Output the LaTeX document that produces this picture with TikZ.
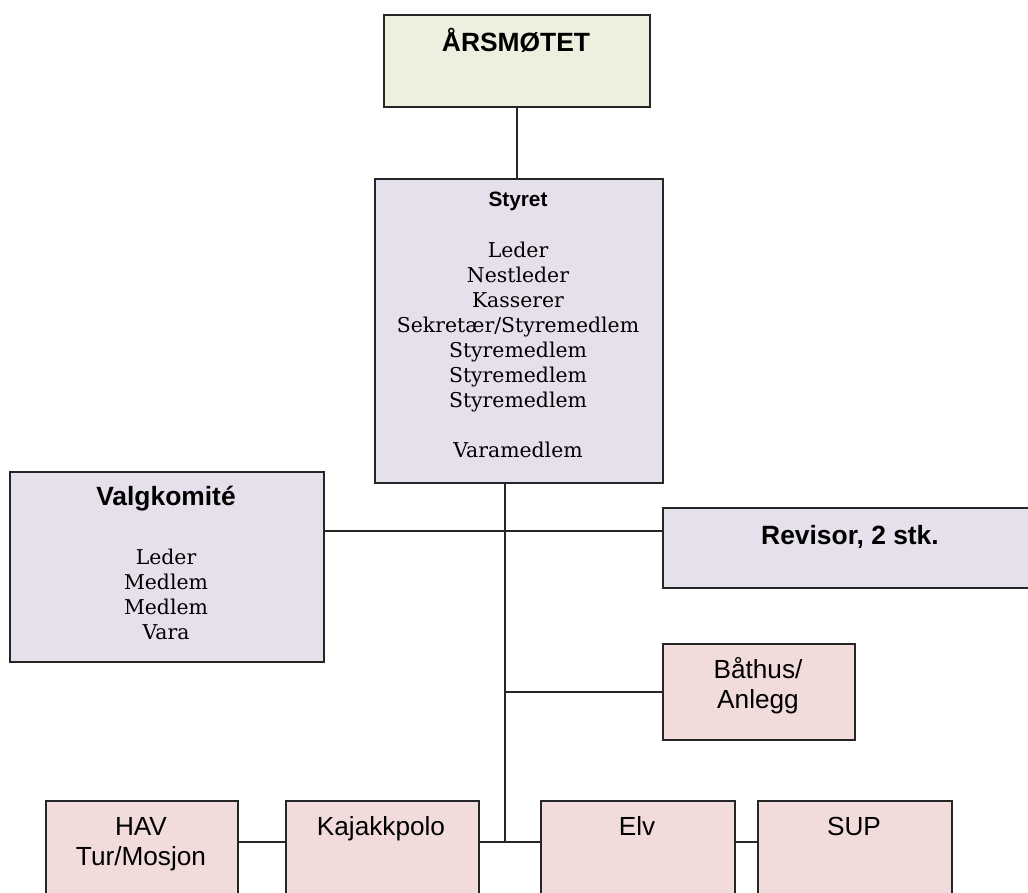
\documentclass[tikz,border=0pt]{standalone}
\usepackage{fontspec}
\setmainfont{Liberation Sans}
\newfontfamily\listfont{DejaVu Serif}
\definecolor{moteGronn}{RGB}{235,241,222}
\definecolor{styreLilla}{RGB}{229,224,236}
\definecolor{gruppeRosa}{RGB}{242,220,219}

\begin{document}
\begin{tikzpicture}[x = 0.5pt,y = -0.5pt,
        orgbox/.style 2 args = {draw = black!85,line width = 1pt,anchor = north west,inner sep = 0pt,
            minimum width = #1*0.5pt,minimum height = #2*0.5pt},
        tittel/.style = {anchor = base,font = \fontsize{13.2}{16}\selectfont\bfseries},
        liste/.style = {anchor = base,align = center,font = \listfont\fontsize{10.2}{12.5}\selectfont},
        gruppe/.style = {anchor = base,align = center,font = \fontsize{13.1}{15}\selectfont},
        linje/.style = {draw = black!85,line width = 0.9pt}]
        \useasboundingbox (0,0) rectangle (1028,893);
        \clip (0,0) rectangle (1028,893);
        % boksene
        \node [orgbox = {266}{92},fill = moteGronn] (aarsmote) at (383,14) {};
        \node [orgbox = {288}{304},fill = styreLilla] (styret) at (374,178) {};
        \node [orgbox = {314}{190},fill = styreLilla] (valg) at (9,471) {};
        \node [orgbox = {376}{80},fill = styreLilla] (revisor) at (662,507) {};
        \node [orgbox = {192}{96},fill = gruppeRosa] (baathus) at (662,643) {};
        \node [orgbox = {192}{130},fill = gruppeRosa] (hav) at (45,800) {};
        \node [orgbox = {193}{130},fill = gruppeRosa] (kajakk) at (285,800) {};
        \node [orgbox = {194}{130},fill = gruppeRosa] (elv) at (540,800) {};
        \node [orgbox = {194}{130},fill = gruppeRosa] (sup) at (757,800) {};
        % tekst (flerlinjet tekst: base er siste linje)
        \node [tittel] (aarsmotetekst) at (516,52) {ÅRSMØTET};
        \node [tittel,font = \fontsize{10.4}{12}\selectfont\bfseries] (styrettekst) at (518,207) {Styret};
        \node [liste] (styreliste) at (518,457) {Leder\\Nestleder\\Kasserer\\Sekretær/Styremedlem\\
            Styremedlem\\Styremedlem\\Styremedlem\\[12.5pt]Varamedlem};
        \node [tittel] (valgtekst) at (166,505) {Valgkomité};
        \node [liste] (valgliste) at (166,639) {Leder\\Medlem\\Medlem\\Vara};
        \node [tittel] (revisortekst) at (850,544) {Revisor, 2 stk.};
        \node [gruppe] (baathustekst) at (758,708) {Båthus/\\Anlegg};
        \node [gruppe] (havtekst) at (141,865) {HAV\\Tur/Mosjon};
        \node [gruppe] (kajakktekst) at (381,835) {Kajakkpolo};
        \node [gruppe] (elvtekst) at (637,835) {Elv};
        \node [gruppe] (suptekst) at (854,835) {SUP};
        % linjer
        \coordinate (stamme) at (505,842);
        \coordinate (tverr) at (505,531);
        \draw [linje] (aarsmote.south) -- (aarsmote.south |- styret.north);
        \draw [linje] (stamme |- styret.south) -- (stamme);
        \draw [linje] (tverr -| valg.east) -- (tverr -| revisor.west);
        \draw [linje] (baathus.west -| stamme) -- (baathus.west);
        \draw [linje] (hav.east |- stamme) -- (kajakk.west |- stamme);
        \draw [linje] (kajakk.east |- stamme) -- (elv.west |- stamme);
        \draw [linje] (elv.east |- stamme) -- (sup.west |- stamme);
    \end{tikzpicture}
\end{document}
